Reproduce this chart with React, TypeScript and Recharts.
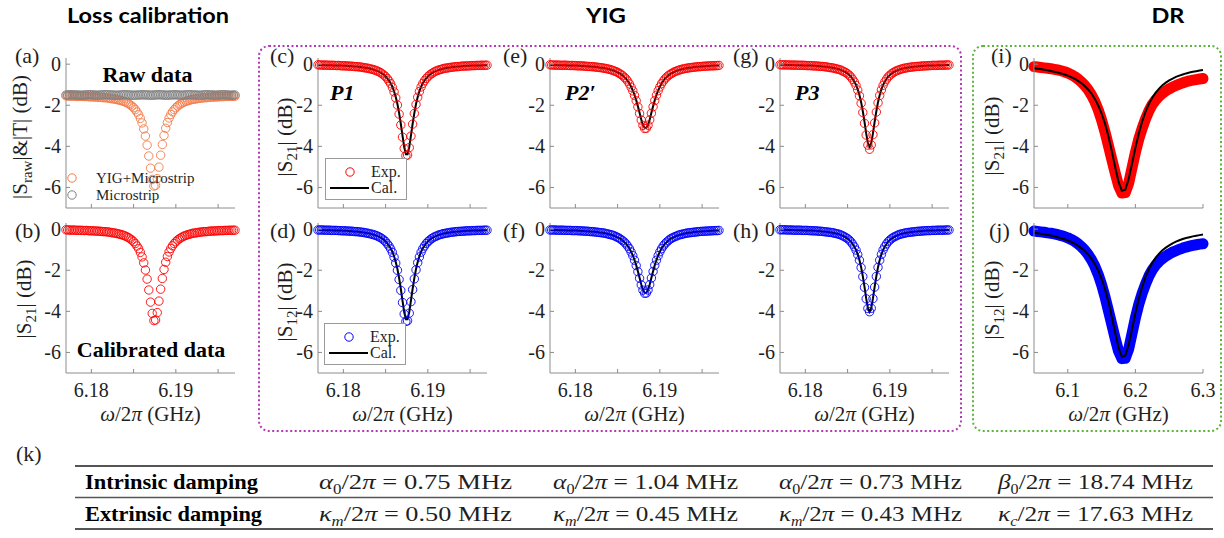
import React from 'react';
import { ComposedChart, Line, XAxis, YAxis, Legend } from 'recharts';

const SERIF = '"Liberation Serif", "Times New Roman", serif';
const SANS = 'Lato, "Open Sans", sans-serif';
const FRAME = '#8c8c8c';
const INK = '#1f1f1f';
const PW = 169;
const PH = 150;

// YIG sweeps: frequency points (GHz)
const yigFreq = [
  6.177, 6.1772, 6.1774, 6.1776, 6.1778, 6.178, 6.1782, 6.1784, 6.1786, 6.1788,
  6.179, 6.1792, 6.1794, 6.1796, 6.1798, 6.18, 6.1802, 6.1804, 6.1806, 6.1808,
  6.181, 6.1812, 6.1814, 6.1816, 6.1818, 6.182, 6.1822, 6.1824, 6.1826, 6.1828,
  6.183, 6.1832, 6.1834, 6.1836, 6.1838, 6.184, 6.1842, 6.1844, 6.1846, 6.1848,
  6.185, 6.1852, 6.1854, 6.1856, 6.1858, 6.186, 6.1862, 6.1864, 6.1866, 6.1868,
  6.187, 6.1872, 6.1874, 6.1876, 6.1878, 6.188, 6.1882, 6.1884, 6.1886, 6.1888,
  6.189, 6.1892, 6.1894, 6.1896, 6.1898, 6.19, 6.1902, 6.1904, 6.1906, 6.1908,
  6.191, 6.1912, 6.1914, 6.1916, 6.1918, 6.192, 6.1922, 6.1924, 6.1926, 6.1928,
  6.193, 6.1932, 6.1934, 6.1936, 6.1938, 6.194, 6.1942, 6.1944, 6.1946, 6.1948,
  6.195, 6.1952, 6.1954, 6.1956, 6.1958, 6.196, 6.1962, 6.1964, 6.1966, 6.1968,
  6.197,
];

// (a) raw transmission, YIG on the microstrip and the bare microstrip
const yigMicrostrip = [
  -1.54, -1.55, -1.55, -1.56, -1.55, -1.56, -1.56, -1.57, -1.56, -1.57,
  -1.57, -1.58, -1.57, -1.58, -1.59, -1.59, -1.59, -1.6, -1.6, -1.61,
  -1.61, -1.62, -1.63, -1.63, -1.64, -1.65, -1.66, -1.68, -1.69, -1.7,
  -1.72, -1.74, -1.76, -1.78, -1.81, -1.84, -1.88, -1.92, -1.98, -2.04,
  -2.12, -2.21, -2.33, -2.46, -2.64, -2.86, -3.15, -3.5, -3.94, -4.47,
  -5.06, -5.61, -5.93, -5.9, -5.57, -5.01, -4.43, -3.91, -3.47, -3.12,
  -2.84, -2.62, -2.45, -2.32, -2.21, -2.12, -2.04, -1.98, -1.93, -1.88,
  -1.84, -1.81, -1.78, -1.76, -1.73, -1.71, -1.7, -1.69, -1.67, -1.66,
  -1.65, -1.64, -1.63, -1.63, -1.62, -1.61, -1.6, -1.6, -1.6, -1.59,
  -1.59, -1.58, -1.58, -1.58, -1.57, -1.57, -1.57, -1.56, -1.57, -1.56,
  -1.56,
];
const microstrip = [
  -1.5, -1.5, -1.49, -1.49, -1.49, -1.5, -1.5, -1.5, -1.51, -1.51,
  -1.51, -1.5, -1.5, -1.49, -1.49, -1.49, -1.5, -1.5, -1.51, -1.51,
  -1.5, -1.5, -1.49, -1.49, -1.49, -1.49, -1.5, -1.5, -1.5, -1.51,
  -1.51, -1.51, -1.5, -1.5, -1.49, -1.49, -1.49, -1.5, -1.5, -1.51,
  -1.51, -1.51, -1.5, -1.5, -1.5, -1.49, -1.49, -1.5, -1.5, -1.5,
  -1.51, -1.51, -1.5, -1.5, -1.49, -1.49, -1.49, -1.5, -1.5, -1.51,
  -1.51, -1.5, -1.5, -1.5, -1.49, -1.49, -1.5, -1.5, -1.51, -1.51,
  -1.5, -1.5, -1.49, -1.49, -1.49, -1.5, -1.5, -1.5, -1.51, -1.51,
  -1.51, -1.5, -1.5, -1.49, -1.49, -1.5, -1.5, -1.5, -1.51, -1.51,
  -1.5, -1.5, -1.49, -1.49, -1.49, -1.5, -1.5, -1.51, -1.51, -1.5,
  -1.5,
];

// P1
const p1S21 = [
  -0.03, -0.04, -0.04, -0.05, -0.04, -0.05, -0.05, -0.06, -0.05, -0.06,
  -0.06, -0.07, -0.06, -0.07, -0.08, -0.08, -0.08, -0.09, -0.09, -0.1,
  -0.1, -0.11, -0.12, -0.12, -0.13, -0.14, -0.15, -0.17, -0.18, -0.19,
  -0.21, -0.23, -0.25, -0.27, -0.3, -0.33, -0.37, -0.41, -0.47, -0.53,
  -0.61, -0.7, -0.82, -0.95, -1.13, -1.35, -1.64, -1.99, -2.43, -2.96,
  -3.55, -4.1, -4.45, -4.42, -4.06, -3.5, -2.92, -2.4, -1.96, -1.61,
  -1.33, -1.11, -0.94, -0.81, -0.7, -0.61, -0.53, -0.47, -0.42, -0.37,
  -0.33, -0.3, -0.27, -0.25, -0.22, -0.2, -0.19, -0.18, -0.16, -0.15,
  -0.14, -0.13, -0.12, -0.12, -0.11, -0.1, -0.09, -0.09, -0.09, -0.08,
  -0.08, -0.07, -0.07, -0.07, -0.06, -0.06, -0.06, -0.05, -0.06, -0.05,
  -0.05,
];
const p1S12 = [
  -0.04, -0.04, -0.04, -0.04, -0.05, -0.05, -0.05, -0.05, -0.06, -0.06,
  -0.06, -0.06, -0.07, -0.07, -0.08, -0.08, -0.08, -0.09, -0.09, -0.1,
  -0.1, -0.11, -0.12, -0.12, -0.13, -0.14, -0.15, -0.16, -0.18, -0.19,
  -0.21, -0.23, -0.25, -0.27, -0.3, -0.33, -0.37, -0.41, -0.47, -0.53,
  -0.61, -0.71, -0.82, -0.96, -1.13, -1.36, -1.65, -2.0, -2.45, -2.98,
  -3.57, -4.13, -4.49, -4.46, -4.09, -3.53, -2.94, -2.42, -1.98, -1.63,
  -1.35, -1.12, -0.95, -0.82, -0.7, -0.61, -0.54, -0.47, -0.42, -0.37,
  -0.34, -0.3, -0.27, -0.25, -0.22, -0.21, -0.19, -0.18, -0.16, -0.15,
  -0.14, -0.13, -0.12, -0.11, -0.11, -0.1, -0.1, -0.09, -0.08, -0.08,
  -0.08, -0.07, -0.07, -0.07, -0.06, -0.06, -0.06, -0.06, -0.05, -0.05,
  -0.05,
];
const p1Fit = [
  -0.04, -0.04, -0.04, -0.04, -0.05, -0.05, -0.05, -0.05, -0.05, -0.06,
  -0.06, -0.06, -0.07, -0.07, -0.07, -0.08, -0.08, -0.08, -0.09, -0.09,
  -0.1, -0.11, -0.11, -0.12, -0.13, -0.14, -0.15, -0.16, -0.17, -0.19,
  -0.2, -0.22, -0.24, -0.27, -0.29, -0.33, -0.36, -0.41, -0.46, -0.52,
  -0.6, -0.69, -0.8, -0.93, -1.1, -1.32, -1.6, -1.94, -2.38, -2.9,
  -3.48, -4.03, -4.39, -4.39, -4.03, -3.48, -2.9, -2.38, -1.94, -1.6,
  -1.32, -1.1, -0.93, -0.8, -0.69, -0.6, -0.52, -0.46, -0.41, -0.36,
  -0.33, -0.29, -0.27, -0.24, -0.22, -0.2, -0.19, -0.17, -0.16, -0.15,
  -0.14, -0.13, -0.12, -0.11, -0.11, -0.1, -0.09, -0.09, -0.08, -0.08,
  -0.08, -0.07, -0.07, -0.07, -0.06, -0.06, -0.06, -0.05, -0.05, -0.05,
  -0.05,
];

// P2'
const p2S21 = [
  -0.03, -0.04, -0.04, -0.05, -0.04, -0.05, -0.05, -0.06, -0.05, -0.05,
  -0.06, -0.06, -0.07, -0.06, -0.07, -0.07, -0.08, -0.08, -0.08, -0.09,
  -0.09, -0.1, -0.11, -0.11, -0.12, -0.12, -0.13, -0.14, -0.15, -0.16,
  -0.17, -0.18, -0.2, -0.21, -0.23, -0.25, -0.27, -0.3, -0.33, -0.36,
  -0.4, -0.45, -0.5, -0.56, -0.64, -0.72, -0.83, -0.96, -1.12, -1.3,
  -1.52, -1.78, -2.08, -2.4, -2.72, -2.98, -3.13, -3.12, -2.97, -2.71,
  -2.39, -2.07, -1.77, -1.51, -1.29, -1.11, -0.95, -0.83, -0.72, -0.63,
  -0.56, -0.5, -0.45, -0.4, -0.36, -0.33, -0.3, -0.27, -0.25, -0.23,
  -0.21, -0.2, -0.18, -0.17, -0.16, -0.15, -0.14, -0.13, -0.12, -0.12,
  -0.11, -0.1, -0.1, -0.09, -0.09, -0.08, -0.08, -0.08, -0.07, -0.07,
  -0.06,
];
const p2S12 = [
  -0.04, -0.04, -0.04, -0.04, -0.05, -0.05, -0.05, -0.05, -0.05, -0.06,
  -0.06, -0.06, -0.06, -0.07, -0.07, -0.07, -0.07, -0.08, -0.08, -0.09,
  -0.09, -0.1, -0.1, -0.11, -0.12, -0.12, -0.13, -0.14, -0.15, -0.16,
  -0.17, -0.18, -0.19, -0.21, -0.23, -0.25, -0.27, -0.29, -0.32, -0.36,
  -0.4, -0.44, -0.5, -0.56, -0.63, -0.72, -0.83, -0.95, -1.11, -1.29,
  -1.51, -1.77, -2.07, -2.39, -2.71, -2.97, -3.12, -3.11, -2.96, -2.7,
  -2.38, -2.06, -1.76, -1.51, -1.29, -1.1, -0.95, -0.82, -0.72, -0.63,
  -0.56, -0.49, -0.44, -0.4, -0.36, -0.33, -0.29, -0.27, -0.25, -0.23,
  -0.21, -0.19, -0.18, -0.17, -0.16, -0.15, -0.14, -0.13, -0.12, -0.11,
  -0.11, -0.1, -0.1, -0.09, -0.09, -0.08, -0.08, -0.07, -0.07, -0.07,
  -0.06,
];
const p2Fit = [
  -0.04, -0.04, -0.04, -0.04, -0.04, -0.05, -0.05, -0.05, -0.05, -0.05,
  -0.06, -0.06, -0.06, -0.06, -0.07, -0.07, -0.07, -0.08, -0.08, -0.09,
  -0.09, -0.1, -0.1, -0.11, -0.11, -0.12, -0.13, -0.14, -0.14, -0.16,
  -0.17, -0.18, -0.19, -0.21, -0.23, -0.25, -0.27, -0.29, -0.32, -0.36,
  -0.4, -0.44, -0.49, -0.55, -0.63, -0.71, -0.82, -0.94, -1.1, -1.28,
  -1.5, -1.75, -2.05, -2.37, -2.69, -2.95, -3.1, -3.1, -2.95, -2.69,
  -2.37, -2.05, -1.75, -1.5, -1.28, -1.1, -0.94, -0.82, -0.71, -0.63,
  -0.55, -0.49, -0.44, -0.4, -0.36, -0.32, -0.29, -0.27, -0.25, -0.23,
  -0.21, -0.19, -0.18, -0.17, -0.16, -0.14, -0.14, -0.13, -0.12, -0.11,
  -0.11, -0.1, -0.1, -0.09, -0.09, -0.08, -0.08, -0.07, -0.07, -0.07,
  -0.06,
];

// P3
const p3S21 = [
  -0.03, -0.03, -0.04, -0.03, -0.04, -0.04, -0.04, -0.05, -0.04, -0.05,
  -0.05, -0.05, -0.06, -0.05, -0.06, -0.06, -0.07, -0.07, -0.07, -0.08,
  -0.08, -0.09, -0.09, -0.1, -0.11, -0.11, -0.12, -0.13, -0.14, -0.16,
  -0.17, -0.18, -0.2, -0.22, -0.24, -0.26, -0.29, -0.33, -0.37, -0.41,
  -0.47, -0.54, -0.63, -0.74, -0.87, -1.04, -1.26, -1.54, -1.9, -2.35,
  -2.88, -3.45, -3.94, -4.14, -3.93, -3.43, -2.86, -2.33, -1.88, -1.52,
  -1.25, -1.03, -0.86, -0.73, -0.62, -0.54, -0.47, -0.41, -0.36, -0.32,
  -0.29, -0.26, -0.23, -0.21, -0.19, -0.18, -0.16, -0.15, -0.14, -0.13,
  -0.12, -0.11, -0.11, -0.1, -0.09, -0.09, -0.08, -0.08, -0.07, -0.07,
  -0.06, -0.06, -0.06, -0.06, -0.05, -0.05, -0.05, -0.05, -0.04, -0.04,
  -0.04,
];
const p3S12 = [
  -0.03, -0.03, -0.03, -0.03, -0.04, -0.04, -0.04, -0.04, -0.05, -0.05,
  -0.05, -0.05, -0.05, -0.06, -0.06, -0.06, -0.06, -0.07, -0.07, -0.08,
  -0.08, -0.08, -0.09, -0.1, -0.1, -0.11, -0.12, -0.13, -0.14, -0.15,
  -0.16, -0.17, -0.19, -0.21, -0.23, -0.25, -0.28, -0.32, -0.36, -0.41,
  -0.46, -0.53, -0.62, -0.73, -0.86, -1.02, -1.24, -1.51, -1.87, -2.31,
  -2.83, -3.39, -3.86, -4.02, -3.85, -3.38, -2.82, -2.3, -1.86, -1.51,
  -1.23, -1.01, -0.85, -0.72, -0.61, -0.53, -0.46, -0.4, -0.36, -0.32,
  -0.28, -0.25, -0.23, -0.21, -0.19, -0.17, -0.16, -0.15, -0.14, -0.13,
  -0.12, -0.11, -0.1, -0.1, -0.09, -0.08, -0.08, -0.07, -0.07, -0.07,
  -0.06, -0.06, -0.06, -0.05, -0.05, -0.05, -0.05, -0.05, -0.04, -0.04,
  -0.04,
];
const p3Fit = [
  -0.03, -0.03, -0.03, -0.03, -0.04, -0.04, -0.04, -0.04, -0.04, -0.05,
  -0.05, -0.05, -0.05, -0.05, -0.06, -0.06, -0.06, -0.07, -0.07, -0.07,
  -0.08, -0.08, -0.09, -0.1, -0.1, -0.11, -0.12, -0.13, -0.14, -0.15,
  -0.16, -0.17, -0.19, -0.21, -0.23, -0.25, -0.28, -0.32, -0.36, -0.4,
  -0.46, -0.53, -0.61, -0.72, -0.85, -1.01, -1.23, -1.5, -1.85, -2.29,
  -2.81, -3.37, -3.84, -4.02, -3.84, -3.37, -2.81, -2.29, -1.85, -1.5,
  -1.23, -1.01, -0.85, -0.72, -0.61, -0.53, -0.46, -0.4, -0.36, -0.32,
  -0.28, -0.25, -0.23, -0.21, -0.19, -0.17, -0.16, -0.15, -0.14, -0.13,
  -0.12, -0.11, -0.1, -0.1, -0.09, -0.08, -0.08, -0.07, -0.07, -0.07,
  -0.06, -0.06, -0.06, -0.05, -0.05, -0.05, -0.05, -0.05, -0.04, -0.04,
  -0.04,
];

// DR sweep (GHz)
const drFreq = [
  6.05, 6.055, 6.06, 6.065, 6.07, 6.075, 6.08, 6.085, 6.09, 6.095,
  6.1, 6.105, 6.11, 6.115, 6.12, 6.125, 6.13, 6.135, 6.14, 6.145,
  6.15, 6.155, 6.16, 6.165, 6.17, 6.175, 6.18, 6.185, 6.19, 6.195,
  6.2, 6.205, 6.21, 6.215, 6.22, 6.225, 6.23, 6.235, 6.24, 6.245,
  6.25, 6.255, 6.26, 6.265, 6.27, 6.275, 6.28, 6.285, 6.29, 6.295, 6.3,
];
const drS21 = [
  -0.12, -0.14, -0.16, -0.18, -0.2, -0.22, -0.25, -0.28, -0.32, -0.37,
  -0.43, -0.51, -0.6, -0.72, -0.86, -1.03, -1.24, -1.5, -1.82, -2.22,
  -2.72, -3.3, -3.95, -4.62, -5.28, -5.9, -6.27, -6.25, -5.8, -5.05,
  -4.3, -3.65, -3.12, -2.66, -2.27, -1.96, -1.74, -1.56, -1.42, -1.3,
  -1.2, -1.11, -1.04, -0.97, -0.91, -0.86, -0.81, -0.78, -0.75, -0.72, -0.7,
];
const drS21Fit = [
  -0.2, -0.22, -0.24, -0.27, -0.3, -0.33, -0.37, -0.41, -0.45, -0.5,
  -0.56, -0.63, -0.71, -0.81, -0.92, -1.06, -1.23, -1.43, -1.69, -2.01,
  -2.4, -2.89, -3.5, -4.22, -5.0, -5.72, -6.16, -6.11, -5.59, -4.85,
  -4.07, -3.37, -2.79, -2.31, -1.93, -1.63, -1.39, -1.19, -1.03, -0.9,
  -0.79, -0.7, -0.62, -0.56, -0.5, -0.45, -0.41, -0.37, -0.34, -0.31, -0.28,
];
const drS12 = [
  -0.09, -0.11, -0.13, -0.15, -0.18, -0.2, -0.23, -0.27, -0.31, -0.36,
  -0.42, -0.5, -0.59, -0.71, -0.85, -1.02, -1.23, -1.49, -1.81, -2.21,
  -2.7, -3.29, -3.95, -4.63, -5.3, -5.93, -6.3, -6.28, -5.84, -5.08,
  -4.32, -3.66, -3.12, -2.67, -2.28, -1.98, -1.75, -1.57, -1.43, -1.31,
  -1.21, -1.12, -1.05, -0.98, -0.92, -0.87, -0.83, -0.79, -0.76, -0.73, -0.71,
];
const drS12Fit = [
  -0.18, -0.2, -0.22, -0.25, -0.28, -0.31, -0.35, -0.39, -0.44, -0.49,
  -0.55, -0.62, -0.7, -0.8, -0.92, -1.06, -1.23, -1.44, -1.7, -2.02,
  -2.42, -2.91, -3.52, -4.24, -5.03, -5.76, -6.21, -6.15, -5.62, -4.87,
  -4.08, -3.38, -2.8, -2.32, -1.94, -1.63, -1.39, -1.19, -1.03, -0.9,
  -0.79, -0.69, -0.61, -0.54, -0.48, -0.43, -0.39, -0.35, -0.32, -0.29, -0.26,
];

// ticks
const yTicks = [-6, -4, -2, 0];
const yigTicks = [6.18, 6.185, 6.19, 6.195];
const yigTickLabels = [6.18, 6.19];
const drTicks = [6.1, 6.2, 6.3];

// table (k)
const tableRows = ['Intrinsic damping', 'Extrinsic damping'];
const intrinsic = [
  { sym: 'α', sub: '0', val: '0.75' },
  { sym: 'α', sub: '0', val: '1.04' },
  { sym: 'α', sub: '0', val: '0.73' },
  { sym: 'β', sub: '0', val: '18.74' },
];
const extrinsic = [
  { sym: 'κ', sub: 'm', val: '0.50' },
  { sym: 'κ', sub: 'm', val: '0.45' },
  { sym: 'κ', sub: 'm', val: '0.43' },
  { sym: 'κ', sub: 'c', val: '17.63' },
];

const rows = (x: number[], cols: Record<string, number[]>) =>
  x.map((f, i) => {
    const r: Record<string, number> = { f };
    Object.keys(cols).forEach((k) => (r[k] = cols[k][i]));
    return r;
  });

const near = (list: number[], v: number) => list.some((t) => Math.abs(t - v) < 1e-9);

const leftTick = (p: any) => (
  <g>
    <line x1={p.x + 5} x2={p.x + 9} y1={p.y} y2={p.y} stroke={FRAME} />
    <text x={p.x} y={p.y + 7} textAnchor="end" fontFamily={SERIF} fontSize={20} fill={INK}>
      {p.payload.value}
    </text>
  </g>
);
const rightTick = (p: any) => <line x1={p.x - 4} x2={p.x - 8} y1={p.y} y2={p.y} stroke={FRAME} />;
const topTick = (p: any) => <line x1={p.x} x2={p.x} y1={p.y + 4} y2={p.y + 8} stroke={FRAME} />;
const bottomTick = (labels: number[]) => (p: any) => (
  <g>
    <line x1={p.x} x2={p.x} y1={p.y - 4} y2={p.y - 8} stroke={FRAME} />
    {near(labels, p.payload.value) && (
      <text x={p.x} y={p.y + 20} textAnchor="middle" fontFamily={SERIF} fontSize={20} fill={INK}>
        {p.payload.value}
      </text>
    )}
  </g>
);

type Series = { key: string; kind: 'dots' | 'fit' | 'band'; color: string };

function Panel(props: {
  left: number;
  top: number;
  data: Record<string, number>[];
  domain: [number, number];
  ticks: number[];
  labels: number[];
  series: Series[];
  legend?: React.ReactNode;
}) {
  const { left, top, data, domain, ticks, labels, series, legend } = props;
  return (
    <div style={{ position: 'absolute', left: left - 40, top: top - 10 }}>
      <ComposedChart width={PW + 60} height={PH + 50} data={data} margin={{ top: 10, right: 20, bottom: 0, left: 0 }}>
        <XAxis
          dataKey="f"
          type="number"
          domain={domain}
          ticks={ticks}
          interval={0}
          height={40}
          tickSize={0}
          tickMargin={4}
          tickLine={false}
          axisLine={{ stroke: FRAME }}
          tick={bottomTick(labels)}
        />
        <XAxis
          xAxisId="top"
          orientation="top"
          dataKey="f"
          type="number"
          domain={domain}
          ticks={ticks}
          interval={0}
          height={0}
          tickSize={0}
          tickMargin={4}
          tickLine={false}
          axisLine={{ stroke: FRAME }}
          tick={topTick}
        />
        <YAxis
          type="number"
          domain={[-7, 0.3]}
          ticks={yTicks}
          interval={0}
          width={40}
          tickSize={0}
          tickMargin={5}
          tickLine={false}
          axisLine={{ stroke: FRAME }}
          tick={leftTick}
        />
        <YAxis
          yAxisId="r"
          orientation="right"
          type="number"
          domain={[-7, 0.3]}
          ticks={yTicks}
          interval={0}
          width={0}
          tickSize={0}
          tickMargin={4}
          tickLine={false}
          axisLine={{ stroke: FRAME }}
          tick={rightTick}
        />
        {series.map((s) =>
          s.kind === 'dots' ? (
            <Line
              key={s.key}
              dataKey={s.key}
              stroke="none"
              isAnimationActive={false}
              activeDot={false}
              dot={{ r: 4.2, stroke: s.color, strokeWidth: 0.9, fill: 'none' }}
            />
          ) : s.kind === 'band' ? (
            <Line
              key={s.key}
              dataKey={s.key}
              stroke={s.color}
              strokeWidth={11}
              strokeLinecap="round"
              strokeLinejoin="round"
              isAnimationActive={false}
              dot={false}
              activeDot={false}
            />
          ) : (
            <Line
              key={s.key}
              dataKey={s.key}
              stroke={s.color}
              strokeWidth={2}
              isAnimationActive={false}
              dot={false}
              activeDot={false}
            />
          )
        )}
        {legend}
      </ComposedChart>
    </div>
  );
}

const expCalLegend = (color: string, left: number, top: number) => (
  <Legend
    layout="vertical"
    align="center"
    verticalAlign="middle"
    wrapperStyle={{ left, top, width: 82, height: 42 }}
    content={() => (
      <svg width={82} height={42} style={{ display: 'block' }}>
        <rect x={0.5} y={0.5} width={81} height={41} fill="#fff" stroke="#9a9a9a" />
        <circle cx={25} cy={14} r={4.2} fill="none" stroke={color} />
        <text x={46} y={19} fontFamily={SERIF} fontSize={16} fill={INK}>Exp.</text>
        <line x1={5} x2={44} y1={30} y2={30} stroke="#000" strokeWidth={2} />
        <text x={46} y={35} fontFamily={SERIF} fontSize={16} fill={INK}>Cal.</text>
      </svg>
    )}
  />
);

const rawLegend = (
  <Legend
    layout="vertical"
    align="center"
    verticalAlign="middle"
    wrapperStyle={{ left: 36, top: 118, width: 170, height: 40 }}
    content={() => (
      <svg width={170} height={40} style={{ display: 'block', overflow: 'visible' }}>
        <circle cx={10} cy={12} r={4.2} fill="none" stroke="#f47a48" />
        <text x={34} y={17} fontFamily={SERIF} fontSize={15} fill={INK}>YIG+Microstrip</text>
        <circle cx={10} cy={29} r={4.2} fill="none" stroke="#808080" />
        <text x={34} y={34} fontFamily={SERIF} fontSize={15} fill={INK}>Microstrip</text>
      </svg>
    )}
  />
);

const YLabel = ({ x, y, sub, rest }: { x: number; y: number; sub: string; rest: string }) => (
  <text transform={`rotate(-90 ${x} ${y})`} x={x} y={y} textAnchor="middle" fontFamily={SERIF} fontSize={21} fill={INK}>
    |S
    <tspan fontSize={15} dy={5}>{sub}</tspan>
    <tspan dy={-5}>{rest}</tspan>
  </text>
);

const XLabel = ({ x }: { x: number }) => (
  <text x={x} y={421} textAnchor="middle" fontFamily={SERIF} fontSize={21} fill={INK}>
    <tspan fontStyle="italic">ω</tspan>/2<tspan fontStyle="italic">π</tspan> (GHz)
  </text>
);

const PLabel = ({ x, y, t }: { x: number; y: number; t: string }) => (
  <text x={x} y={y} fontFamily={SERIF} fontSize={22} fill={INK}>{t}</text>
);

const cellX = [319, 553, 779, 998];
const cellW = [193, 185, 183, 195];

const MathCell = ({ x, y, w, c }: { x: number; y: number; w: number; c: { sym: string; sub: string; val: string } }) => (
  <text x={x} y={y} fontFamily={SERIF} fontSize={22} fill={INK} textLength={w} lengthAdjust="spacingAndGlyphs">
    <tspan fontStyle="italic">{c.sym}</tspan>
    <tspan fontSize={14} dy={5} fontStyle={c.sub === '0' ? 'normal' : 'italic'}>{c.sub}</tspan>
    <tspan dy={-5}>/2</tspan>
    <tspan fontStyle="italic">π</tspan>
    <tspan>{' = ' + c.val + ' MHz'}</tspan>
  </text>
);

function Overlay() {
  return (
    <svg width={1224} height={538} style={{ position: 'absolute', left: 0, top: 0, pointerEvents: 'none' }}>
      <text x={148} y={23} textAnchor="middle" fontFamily={SANS} fontWeight="bold" fontSize={21} fill="#000" textLength={162} lengthAdjust="spacingAndGlyphs">
        Loss calibration
      </text>
      <text x={606} y={23} textAnchor="middle" fontFamily={SANS} fontWeight="bold" fontSize={21} fill="#000" textLength={40} lengthAdjust="spacingAndGlyphs">
        YIG
      </text>
      <text x={1168} y={23} textAnchor="middle" fontFamily={SANS} fontWeight="bold" fontSize={21} fill="#000" textLength={33} lengthAdjust="spacingAndGlyphs">
        DR
      </text>

      <rect x={259} y={46} width={702} height={385} rx={10} fill="none" stroke="#b23ab2" strokeWidth={2} strokeDasharray="2 2.5" />
      <rect x={973} y={46} width={248} height={385} rx={10} fill="none" stroke="#5cb43c" strokeWidth={2} strokeDasharray="2 2.5" />

      <PLabel x={15} y={63} t="(a)" />
      <PLabel x={15} y={238} t="(b)" />
      <PLabel x={270} y={63} t="(c)" />
      <PLabel x={270} y={238} t="(d)" />
      <PLabel x={503} y={63} t="(e)" />
      <PLabel x={503} y={238} t="(f)" />
      <PLabel x={733} y={63} t="(g)" />
      <PLabel x={733} y={238} t="(h)" />
      <PLabel x={991} y={63} t="(i)" />
      <PLabel x={989} y={238} t="(j)" />

      <YLabel x={27} y={137} sub="raw" rest="|&|T| (dB)" />
      <YLabel x={31} y={299} sub="21" rest="| (dB)" />
      <YLabel x={292} y={137} sub="21" rest="| (dB)" />
      <YLabel x={292} y={302} sub="12" rest="| (dB)" />
      <YLabel x={999} y={136} sub="21" rest="| (dB)" />
      <YLabel x={999} y={300} sub="12" rest="| (dB)" />

      <XLabel x={150.5} />
      <XLabel x={402.5} />
      <XLabel x={634.5} />
      <XLabel x={864.5} />
      <XLabel x={1118.5} />

      <text x={147.5} y={82} textAnchor="middle" fontFamily={SERIF} fontWeight="bold" fontSize={22} fill="#000">Raw data</text>
      <text x={151} y={357} textAnchor="middle" fontFamily={SERIF} fontWeight="bold" fontSize={22} fill="#000">Calibrated data</text>
      <text x={330} y={100} fontFamily={SERIF} fontWeight="bold" fontStyle="italic" fontSize={22} fill="#000">P1</text>
      <text x={565} y={100} fontFamily={SERIF} fontWeight="bold" fontStyle="italic" fontSize={22} fill="#000">P2′</text>
      <text x={795} y={100} fontFamily={SERIF} fontWeight="bold" fontStyle="italic" fontSize={22} fill="#000">P3</text>

      <text x={16} y={461} fontFamily={SERIF} fontSize={22} fill={INK}>(k)</text>
      <line x1={75} x2={1213} y1={466} y2={466} stroke="#555" strokeWidth={2} />
      <line x1={75} x2={1213} y1={497.5} y2={497.5} stroke="#555" strokeWidth={1.5} />
      <line x1={75} x2={1213} y1={529} y2={529} stroke="#555" strokeWidth={2} />
      <text x={85} y={489} fontFamily={SERIF} fontWeight="bold" fontSize={21} fill="#000" textLength={173} lengthAdjust="spacingAndGlyphs">
        {tableRows[0]}
      </text>
      <text x={85} y={521} fontFamily={SERIF} fontWeight="bold" fontSize={21} fill="#000" textLength={177} lengthAdjust="spacingAndGlyphs">
        {tableRows[1]}
      </text>
      {intrinsic.map((c, i) => (
        <MathCell key={'a' + i} x={cellX[i]} y={489} w={cellW[i]} c={c} />
      ))}
      {extrinsic.map((c, i) => (
        <MathCell key={'k' + i} x={cellX[i]} y={521} w={cellW[i]} c={c} />
      ))}
    </svg>
  );
}

const RED = '#ff0000';
const BLUE = '#0000ff';
const COLS = [66, 318, 550, 780, 1034];
const ROWS = [58, 223];
const yigDomain: [number, number] = [6.177, 6.197];
const drDomain: [number, number] = [6.05, 6.3];

export default function App() {
  return (
    <div style={{ position: 'absolute', left: 0, top: 0, width: 1224, height: 538, background: '#fff', overflow: 'hidden' }}>
      <Panel
        left={COLS[0]} top={ROWS[0]} domain={yigDomain} ticks={yigTicks} labels={[]}
        data={rows(yigFreq, { raw: yigMicrostrip, ms: microstrip })}
        series={[{ key: 'raw', kind: 'dots', color: '#f47a48' }, { key: 'ms', kind: 'dots', color: '#808080' }]}
        legend={rawLegend}
      />
      <Panel
        left={COLS[0]} top={ROWS[1]} domain={yigDomain} ticks={yigTicks} labels={yigTickLabels}
        data={rows(yigFreq, { exp: p1S21 })}
        series={[{ key: 'exp', kind: 'dots', color: RED }]}
      />
      <Panel
        left={COLS[1]} top={ROWS[0]} domain={yigDomain} ticks={yigTicks} labels={[]}
        data={rows(yigFreq, { exp: p1S21, fit: p1Fit })}
        series={[{ key: 'exp', kind: 'dots', color: RED }, { key: 'fit', kind: 'fit', color: '#000' }]}
        legend={expCalLegend(RED, 47, 110)}
      />
      <Panel
        left={COLS[1]} top={ROWS[1]} domain={yigDomain} ticks={yigTicks} labels={yigTickLabels}
        data={rows(yigFreq, { exp: p1S12, fit: p1Fit })}
        series={[{ key: 'exp', kind: 'dots', color: BLUE }, { key: 'fit', kind: 'fit', color: '#000' }]}
        legend={expCalLegend(BLUE, 46, 110)}
      />
      <Panel
        left={COLS[2]} top={ROWS[0]} domain={yigDomain} ticks={yigTicks} labels={[]}
        data={rows(yigFreq, { exp: p2S21, fit: p2Fit })}
        series={[{ key: 'exp', kind: 'dots', color: RED }, { key: 'fit', kind: 'fit', color: '#000' }]}
      />
      <Panel
        left={COLS[2]} top={ROWS[1]} domain={yigDomain} ticks={yigTicks} labels={yigTickLabels}
        data={rows(yigFreq, { exp: p2S12, fit: p2Fit })}
        series={[{ key: 'exp', kind: 'dots', color: BLUE }, { key: 'fit', kind: 'fit', color: '#000' }]}
      />
      <Panel
        left={COLS[3]} top={ROWS[0]} domain={yigDomain} ticks={yigTicks} labels={[]}
        data={rows(yigFreq, { exp: p3S21, fit: p3Fit })}
        series={[{ key: 'exp', kind: 'dots', color: RED }, { key: 'fit', kind: 'fit', color: '#000' }]}
      />
      <Panel
        left={COLS[3]} top={ROWS[1]} domain={yigDomain} ticks={yigTicks} labels={yigTickLabels}
        data={rows(yigFreq, { exp: p3S12, fit: p3Fit })}
        series={[{ key: 'exp', kind: 'dots', color: BLUE }, { key: 'fit', kind: 'fit', color: '#000' }]}
      />
      <Panel
        left={COLS[4]} top={ROWS[0]} domain={drDomain} ticks={drTicks} labels={[]}
        data={rows(drFreq, { exp: drS21, fit: drS21Fit })}
        series={[{ key: 'exp', kind: 'band', color: RED }, { key: 'fit', kind: 'fit', color: '#000' }]}
      />
      <Panel
        left={COLS[4]} top={ROWS[1]} domain={drDomain} ticks={drTicks} labels={drTicks}
        data={rows(drFreq, { exp: drS12, fit: drS12Fit })}
        series={[{ key: 'exp', kind: 'band', color: BLUE }, { key: 'fit', kind: 'fit', color: '#000' }]}
      />
      <Overlay />
    </div>
  );
}
